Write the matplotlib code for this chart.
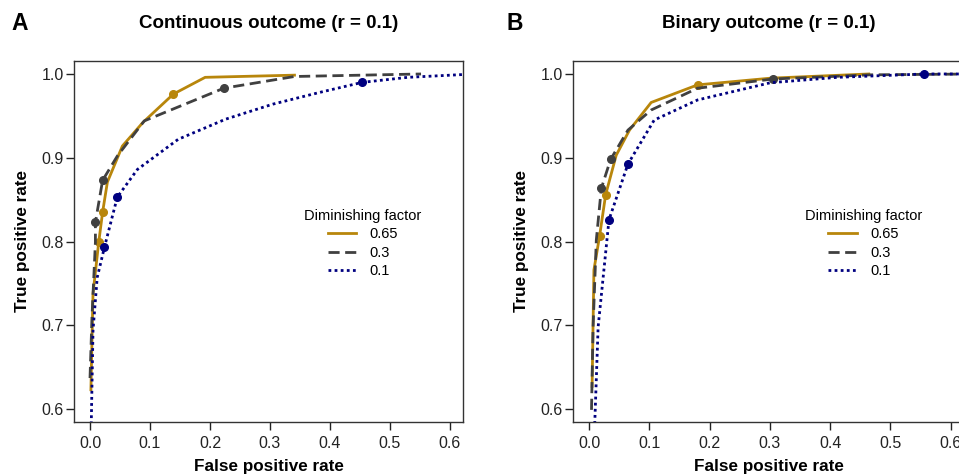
import matplotlib
matplotlib.use("Agg")
import matplotlib.pyplot as plt

# ROC curves
# panel A: continuous outcome
contFpr065 = [0.0015, 0.005, 0.0145, 0.021, 0.029, 0.054, 0.088, 0.139, 0.192, 0.341]
contTpr065 = [0.623, 0.738, 0.799, 0.835, 0.871, 0.914, 0.942, 0.976, 0.996, 0.9986]
contFpr03 = [0.0, 0.0033, 0.009, 0.009, 0.021, 0.0455, 0.0905, 0.223, 0.341, 0.552]
contTpr03 = [0.637, 0.710, 0.799, 0.823, 0.873, 0.902, 0.944, 0.983, 0.997, 1.0]
contFpr01 = [0.0015, 0.005, 0.012, 0.024, 0.0455, 0.079, 0.147, 0.226, 0.305, 0.383, 0.454, 0.530, 0.64]
contTpr01 = [0.56, 0.694, 0.757, 0.793, 0.853, 0.886, 0.922, 0.946, 0.964, 0.978, 0.990, 0.996, 1.0]

# panel B: binary outcome
binFpr065 = [0.005, 0.008, 0.0175, 0.0275, 0.045, 0.067, 0.103, 0.180, 0.301, 0.464]
binTpr065 = [0.627, 0.766, 0.807, 0.856, 0.903, 0.933, 0.966, 0.987, 0.995, 1.0]
binFpr03 = [0.004, 0.0066, 0.012, 0.0203, 0.0357, 0.0645, 0.103, 0.180, 0.305, 0.467, 0.64]
binTpr03 = [0.599, 0.698, 0.802, 0.8635, 0.898, 0.933, 0.957, 0.983, 0.994, 0.999, 1.0]
binFpr01 = [0.009, 0.015, 0.033, 0.0645, 0.108, 0.180, 0.301, 0.412, 0.556, 0.64]
binTpr01 = [0.575, 0.698, 0.826, 0.8925, 0.945, 0.969, 0.9896, 0.996, 1.0, 1.0]

# highlighted cut-offs (dots)
contMarkX065 = [0.0145, 0.021, 0.139]
contMarkY065 = [0.799, 0.835, 0.976]
contMarkX03 = [0.009, 0.021, 0.223]
contMarkY03 = [0.823, 0.873, 0.983]
contMarkX01 = [0.024, 0.0455, 0.454]
contMarkY01 = [0.793, 0.853, 0.990]
binMarkX065 = [0.0175, 0.0275, 0.180]
binMarkY065 = [0.807, 0.856, 0.987]
binMarkX03 = [0.0203, 0.0357, 0.305]
binMarkY03 = [0.8635, 0.898, 0.994]
binMarkX01 = [0.033, 0.0645, 0.556]
binMarkY01 = [0.826, 0.8925, 1.0]

factorLabels = ["0.65", "0.3", "0.1"]
panelTitles = ["Continuous outcome (r = 0.1)", "Binary outcome (r = 0.1)"]
panelLetters = ["A", "B"]
xTicks = [0.0, 0.1, 0.2, 0.3, 0.4, 0.5, 0.6]
yTicks = [0.6, 0.7, 0.8, 0.9, 1.0]

colours = ["#B8860B", "#404040", "#000080"]
styles = ["-", (0, (4, 2)), (0, (1, 1.2))]

plt.rcParams['font.family'] = ['Liberation Sans', 'DejaVu Sans']

W, H = 959, 475
fig = plt.figure(figsize=(W / 100, H / 100), dpi=100)

# axes boxes in pixels: left, right, top, bottom
# (panel B runs past the right edge, as in the original crop)
boxes = [(74, 463, 61, 422), (573, 964, 61, 422)]
letterX = [11, 507]

panels = [
    [(contFpr065, contTpr065, contMarkX065, contMarkY065),
     (contFpr03, contTpr03, contMarkX03, contMarkY03),
     (contFpr01, contTpr01, contMarkX01, contMarkY01)],
    [(binFpr065, binTpr065, binMarkX065, binMarkY065),
     (binFpr03, binTpr03, binMarkX03, binMarkY03),
     (binFpr01, binTpr01, binMarkX01, binMarkY01)],
]

for p in range(2):
    l, r, t, b = boxes[p]
    ax = fig.add_axes([l / W, 1 - b / H, (r - l) / W, (b - t) / H])

    for i in range(3):
        xs, ys, mx, my = panels[p][i]
        ax.plot(xs, ys, color=colours[i], linestyle=styles[i], linewidth=2.0,
                label=factorLabels[i])
        ax.plot(mx, my, "o", color=colours[i], markersize=5.5)

    ax.set_xlim(-0.0267, 0.622)
    ax.set_ylim(0.5845, 1.0155)
    ax.set_xticks(xTicks)
    ax.set_xticklabels(["%.1f" % v for v in xTicks])
    ax.set_yticks(yTicks)
    ax.set_yticklabels(["%.1f" % v for v in yTicks])
    ax.tick_params(direction="out", length=6, width=1, labelsize=11.5,
                   colors="#222222")
    ax.tick_params(axis="x", pad=4)
    ax.tick_params(axis="y", pad=1.5)
    for s in ax.spines.values():
        s.set_linewidth(1.0)
        s.set_color("#333333")

    ax.set_xlabel("False positive rate", fontsize=12.3, fontweight="bold", labelpad=6)
    ax.set_ylabel("True positive rate", fontsize=12.3, fontweight="bold", labelpad=8)

    ax.legend(loc="center", bbox_to_anchor=(0.743, 0.494), frameon=False,
              title="Diminishing factor", fontsize=10.5, title_fontsize=10.5,
              handlelength=1.95, handletextpad=0.9, labelspacing=0.3)

    fig.text(letterX[p] / W, 1 - 23 / H, panelLetters[p], fontsize=16.5,
             fontweight="bold", va="center", ha="left")
    fig.text((l + r) / 2 / W, 1 - 23 / H, panelTitles[p], fontsize=13.5,
             fontweight="bold", va="center", ha="center")

fig.savefig("out.png", dpi=100)
